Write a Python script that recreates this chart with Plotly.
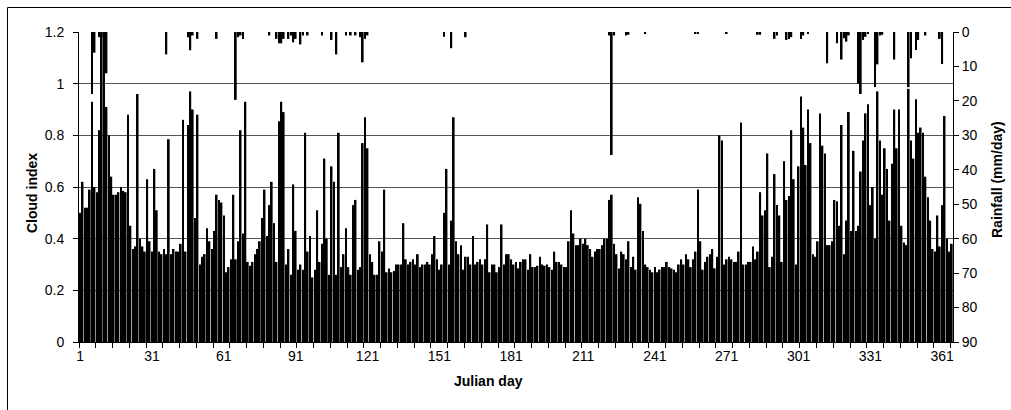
import plotly.graph_objects as go

days = list(range(1, 366))

cloud_index = [
    0.50, 0.62, 0.52, 0.52, 0.59, 0.93, 0.60, 0.58, 0.82, 1.22,
    1.00, 0.91, 0.80, 0.64, 0.57, 0.57, 0.58, 0.60, 0.585, 0.58,
    0.88, 0.45, 0.36, 0.37, 0.96, 0.40, 0.37, 0.35, 0.63, 0.39,
    0.35, 0.67, 0.51, 0.35, 0.34, 0.36, 0.34, 0.785, 0.34, 0.36,
    0.35, 0.35, 0.38, 0.86, 0.35, 0.84, 0.97, 0.90, 0.48, 0.88,
    0.30, 0.33, 0.34, 0.44, 0.39, 0.36, 0.43, 0.57, 0.55, 0.54,
    0.49, 0.27, 0.29, 0.32, 0.57, 0.32, 0.39, 0.82, 0.42, 0.93,
    0.31, 0.295, 0.31, 0.34, 0.36, 0.39, 0.48, 0.59, 0.41, 0.53,
    0.62, 0.46, 0.31, 0.855, 0.93, 0.89, 0.30, 0.36, 0.26, 0.61,
    0.43, 0.28, 0.30, 0.28, 0.81, 0.35, 0.41, 0.25, 0.28, 0.51,
    0.31, 0.38, 0.71, 0.40, 0.26, 0.68, 0.62, 0.26, 0.81, 0.29,
    0.34, 0.44, 0.29, 0.26, 0.53, 0.55, 0.28, 0.29, 0.77, 0.87,
    0.75, 0.34, 0.31, 0.26, 0.26, 0.39, 0.35, 0.59, 0.27, 0.285,
    0.27, 0.275, 0.30, 0.30, 0.30, 0.46, 0.32, 0.30, 0.31, 0.32,
    0.30, 0.34, 0.29, 0.30, 0.30, 0.31, 0.30, 0.34, 0.41, 0.32,
    0.28, 0.30, 0.50, 0.67, 0.30, 0.47, 0.87, 0.39, 0.34, 0.375,
    0.28, 0.33, 0.33, 0.30, 0.41, 0.30, 0.31, 0.32, 0.30, 0.32,
    0.455, 0.27, 0.30, 0.30, 0.27, 0.29, 0.455, 0.30, 0.34, 0.34,
    0.32, 0.30, 0.31, 0.285, 0.31, 0.32, 0.32, 0.28, 0.34, 0.29,
    0.29, 0.295, 0.33, 0.30, 0.295, 0.30, 0.29, 0.28, 0.35, 0.31,
    0.31, 0.30, 0.29, 0.29, 0.39, 0.51, 0.42, 0.375, 0.375, 0.40,
    0.38, 0.40, 0.375, 0.36, 0.33, 0.35, 0.36, 0.36, 0.375, 0.40,
    0.40, 0.55, 0.57, 0.38, 0.34, 0.285, 0.35, 0.34, 0.32, 0.39,
    0.29, 0.33, 0.28, 0.56, 0.535, 0.43, 0.30, 0.29, 0.28, 0.27,
    0.29, 0.27, 0.28, 0.29, 0.29, 0.31, 0.29, 0.285, 0.28, 0.27,
    0.30, 0.32, 0.30, 0.34, 0.32, 0.29, 0.32, 0.35, 0.59, 0.39,
    0.28, 0.31, 0.33, 0.34, 0.36, 0.285, 0.33, 0.80, 0.78, 0.30,
    0.32, 0.33, 0.32, 0.31, 0.31, 0.35, 0.85, 0.30, 0.30, 0.31,
    0.31, 0.37, 0.32, 0.35, 0.58, 0.49, 0.51, 0.73, 0.29, 0.33,
    0.65, 0.53, 0.49, 0.31, 0.70, 0.55, 0.565, 0.82, 0.63, 0.30,
    0.68, 0.95, 0.83, 0.685, 0.90, 0.77, 0.34, 0.33, 0.39, 0.885,
    0.76, 0.73, 0.375, 0.375, 0.39, 0.55, 0.545, 0.45, 0.84, 0.34,
    0.47, 0.89, 0.43, 0.74, 0.43, 0.45, 0.66, 0.78, 0.885, 0.92,
    0.53, 0.60, 0.40, 0.97, 0.78, 0.57, 0.75, 0.67, 0.47, 0.69,
    0.90, 0.75, 0.90, 0.45, 0.385, 0.375, 0.98, 0.78, 0.71, 0.94,
    0.81, 0.83, 0.81, 0.64, 0.56, 0.47, 0.36, 0.35, 0.49, 0.37,
    0.53, 0.875, 0.40, 0.35, 0.38,
]

rain_days = [6, 7, 9, 10, 11, 12, 37, 46, 47, 48, 50,
             58, 66, 67, 68, 69, 80, 83, 84, 85, 86, 88, 89, 90, 91,
             93, 94, 96, 102, 106, 108, 112, 114, 116, 118, 119, 120, 121,
             153, 156, 162, 222, 223, 224, 229, 230, 237, 258, 259, 271,
             284, 285, 291, 292, 296, 297, 298, 302, 303, 305, 313, 317,
             319, 320, 321, 322, 326, 327, 328, 329, 330, 333, 334, 335,
             336, 341, 347, 348, 350, 351, 354, 360, 361]
rain_mm = [18, 6, 1.5, 1.5, 20, 12, 6.5, 1.5, 5.3, 1, 2,
           2, 19.7, 1.5, 1, 2, 1, 2, 3.3, 3.3, 2, 2, 1, 3, 2,
           3.6, 1, 1, 1, 2.3, 6.5, 1, 1, 1, 1.5, 8.8, 2, 1,
           1.4, 4.7, 1.5, 1, 35.7, 1, 1, 0.8, 0.5, 0.5, 0.5, 0.5,
           0.8, 0.8, 2, 1, 2.3, 2, 1.5, 2, 1, 0.5, 9.1, 3.3,
           8, 1.8, 2.8, 1, 15, 18, 2.3, 1.4, 0.5, 16, 9.4, 1,
           0.8, 8, 16, 7.6, 5.2, 2.3, 1, 2, 9.3]

x_tick_vals = [1, 31, 61, 91, 121, 151, 181, 211, 241, 271, 301, 331, 361]
x_tick_text = [str(v) for v in x_tick_vals]

W, H = 1011, 410
L, R, T, B = 79, 953, 32, 342
pw, ph = R - L, B - T

def px(xp):
    return (xp - L) / pw

def py(yp):
    return (B - yp) / ph

FONT = "Liberation Sans, Arial, sans-serif"

fig = go.Figure()
fig.add_trace(go.Bar(x=days, y=cloud_index, width=0.72, marker=dict(color="black", line=dict(width=0)),
                     yaxis="y", name="Cloud index"))
fig.add_trace(go.Bar(x=rain_days, y=rain_mm, width=0.72, marker=dict(color="black", line=dict(width=0)),
                     yaxis="y2", name="Rainfall"))

fig.update_layout(
    width=W, height=H,
    margin=dict(l=L, r=W - R, t=T, b=H - B, autoexpand=False),
    paper_bgcolor="white", plot_bgcolor="white",
    showlegend=False, barmode="overlay",
    font=dict(family=FONT, size=14, color="black"),
    xaxis=dict(range=[0.5, 365.5], tickmode="array", tickvals=x_tick_vals, ticktext=x_tick_text,
               ticks="", showline=True, linecolor="black", linewidth=1, showgrid=False, zeroline=False,
               ticklabelstandoff=1,
               minor=dict(tickmode="linear", tick0=0.5, dtick=7, ticks="outside", ticklen=5,
                          tickcolor="black", tickwidth=1, showgrid=False)),
    yaxis=dict(range=[0, 1.2], dtick=0.2, tick0=0, ticks="outside", ticklen=5, tickcolor="black",
               showline=True, linecolor="black", linewidth=1, showgrid=True, gridcolor="#555555",
               gridwidth=1, zeroline=False, ticklabelstandoff=6),
    yaxis2=dict(range=[90, 0], dtick=10, tick0=0, overlaying="y", side="right", ticks="outside",
                ticklen=5, tickcolor="black", showline=True, linecolor="black", linewidth=1,
                showgrid=False, zeroline=False),
    annotations=[
        dict(text="<b>Julian day</b>", xref="paper", yref="paper", x=px(488), y=py(381),
             showarrow=False, xanchor="center", yanchor="middle", font=dict(size=14)),
        dict(text="<b>Cloud index</b>", xref="paper", yref="paper", x=px(32), y=py(193),
             showarrow=False, xanchor="center", yanchor="middle", textangle=-90, font=dict(size=14)),
        dict(text="<b>Rainfall (mm/day)</b>", xref="paper", yref="paper", x=px(997), y=py(180),
             showarrow=False, xanchor="center", yanchor="middle", textangle=-90, font=dict(size=14)),
    ],
    shapes=[
        dict(type="line", xref="paper", yref="paper", x0=px(7.5), x1=px(1011), y0=py(7.5), y1=py(7.5),
             line=dict(color="black", width=1)),
        dict(type="line", xref="paper", yref="paper", x0=px(7.5), x1=px(7.5), y0=py(7.5), y1=py(410),
             line=dict(color="black", width=1)),
    ],
)

fig.write_html("out.html")
